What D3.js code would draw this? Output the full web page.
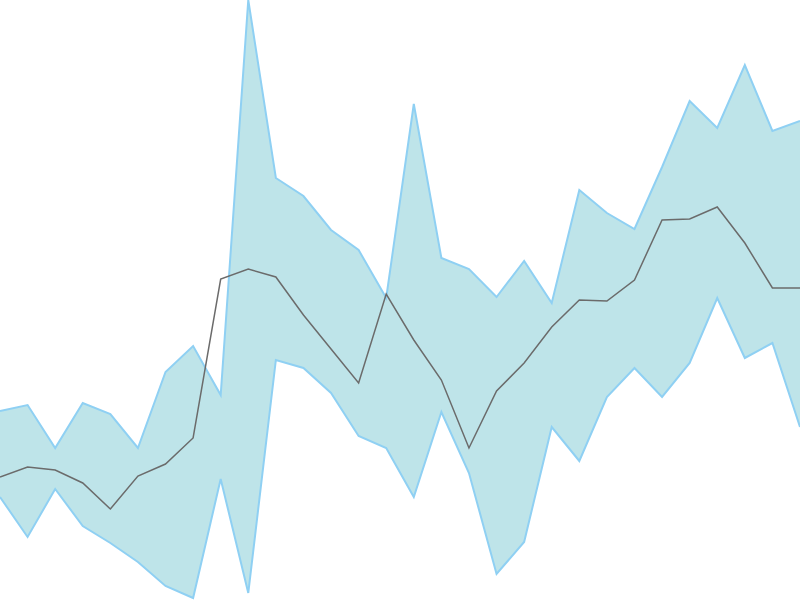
<!DOCTYPE html>
<html>
<head>
<meta charset="utf-8">
<script src="https://cdn.jsdelivr.net/npm/d3@7"></script>
<style>
  html, body { margin: 0; padding: 0; background: #fff; overflow: hidden; }
  svg { display: block; }
</style>
</head>
<body>
<div id="chart"></div>
<script>
// band upper / lower bounds and the middle line, one value per step
var upper = [189, 195, 152, 197, 186, 152, 228, 254, 205, 600, 422, 404, 370, 350, 302,
             496, 342, 331, 303, 339, 297, 410, 387, 371, 433, 499, 472, 535, 469, 479]
var lower = [103, 63, 111, 74, 57, 38, 14, 2, 121, 7, 240, 232, 207, 164, 152,
             103, 188, 127, 26, 58, 173, 139, 203, 232, 203, 237, 302, 242, 257, 173]
var middle = [123, 133, 130, 117, 91, 124, 136, 162, 321, 331, 323, 285, 251, 217, 306,
              260, 220, 152, 209, 237, 273, 300, 299, 320, 380, 381, 393, 357, 312, 312]

var width = 800
var height = 600

var data = middle.map((d, i) => ({i, lo: lower[i], hi: upper[i], mid: d}))

var x = d3.scaleLinear().domain([0, data.length - 1]).range([0, width])
var y = d3.scaleLinear().domain([0, 600]).range([height, 0])

var svg = d3.select('#chart').append('svg')
  .attr('width', width)
  .attr('height', height)

var area = d3.area()
  .x(d => x(d.i))
  .y0(d => y(d.lo))
  .y1(d => y(d.hi))

svg.append('path')
  .datum(data)
  .attr('d', area)
  .attr('fill', '#bee4e9')
  .attr('stroke', 'none')

// outline the band edges
var edge = key => d3.line().x(d => x(d.i)).y(d => y(d[key]))

;['hi', 'lo'].forEach(k => {
  svg.append('path')
    .datum(data)
    .attr('d', edge(k))
    .attr('fill', 'none')
    .attr('stroke', '#8fd0f3')
    .attr('stroke-width', 2)
})

svg.append('path')
  .datum(data)
  .attr('d', edge('mid'))
  .attr('fill', 'none')
  .attr('stroke', '#6b6b6b')
  .attr('stroke-width', 1.5)
</script>
</body>
</html>
